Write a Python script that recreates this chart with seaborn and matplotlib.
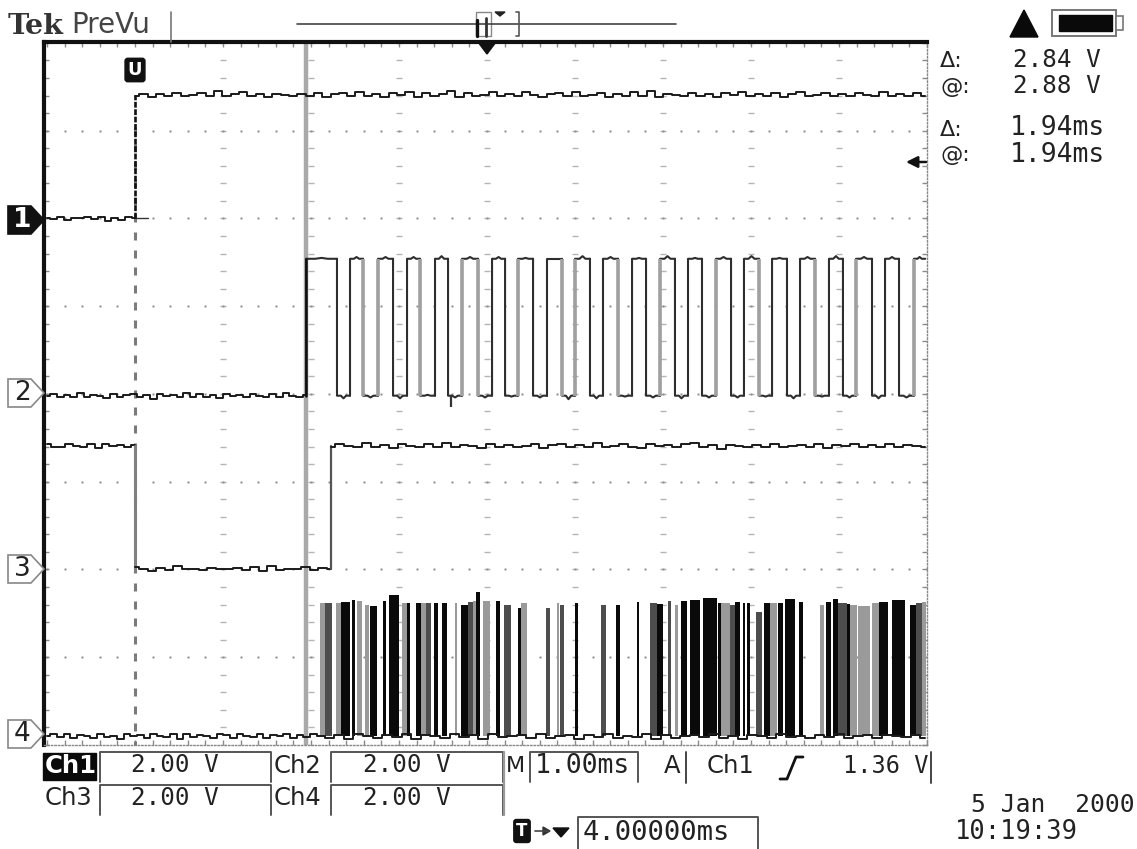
import numpy as np
import pandas as pd
import matplotlib
matplotlib.use("Agg")
import matplotlib.pyplot as plt
from matplotlib.patches import Polygon, Rectangle
import seaborn as sns

# Time in ms from the left edge of the screen, voltage in divisions from the bottom

# Channel levels
ch1_low, ch1_high = 6.00, 7.41
ch2_low, ch2_high = 3.98, 5.54
ch3_low, ch3_high = 2.01, 3.41
ch4_low = 0.10
trigger_t = 1.0
cursor_t = 2.943
ch3_rise_t = 3.227
ch2_dip_t, ch2_dip_v = 4.585, 3.85

ch1_low_dev = [0.01, -0.01, 0.02, -0.02, 0.01, 0.0, 0.02, -0.01, 0.02, -0.03, 0.01, -0.02, 0.02, 0.0]
ch1_high_dev = [-0.02, 0.01, -0.03, 0.01, -0.01, 0.02, -0.01, 0.0, 0.02, -0.02, 0.04, -0.02, 0.01, 0.03, -0.02,
                0.01, -0.03, 0.01, 0.0, -0.02, 0.01, -0.01, 0.02, -0.03, 0.01, 0.02, -0.02, 0.03, -0.01, 0.01,
                -0.03, 0.02, 0.0, 0.03, -0.03, 0.02, -0.02, 0.01, 0.04, -0.03, 0.02, -0.01, 0.0, 0.03, -0.02,
                0.01, -0.02, 0.03, 0.0, -0.03, 0.01, 0.02, -0.01, 0.03, -0.02, 0.0, 0.02, -0.03, 0.01, -0.01,
                0.03, -0.02, 0.04, -0.03, 0.01, 0.0, -0.02, 0.02, -0.01, 0.01, -0.03, 0.02, 0.0, 0.03, -0.02,
                0.01, -0.01, 0.02, -0.03, 0.01, 0.03, -0.02, 0.0, 0.02, -0.01, 0.01, -0.02, 0.02, 0.0, -0.02,
                0.03, -0.01, 0.01, -0.02, 0.02, -0.01]
ch2_low_dev = [0.0, 0.02, -0.02, 0.01, -0.01, 0.03, -0.02, 0.01, 0.0, -0.03, 0.02, -0.01, 0.01, 0.02, -0.02,
               0.01, -0.04, 0.02, 0.0, 0.01, -0.02, 0.03, -0.01, 0.02, -0.02, 0.01, -0.03, 0.02, 0.0, 0.01,
               -0.02, 0.02, 0.0, -0.01, 0.02, -0.02, 0.03, 0.0, -0.01, 0.01]
ch3_high_a_dev = [0.02, -0.02, -0.01, 0.02, 0.0, -0.02, 0.02, -0.03, 0.02, 0.0, 0.01, -0.02, 0.01]
ch3_low_dev = [0.02, -0.01, -0.03, 0.01, -0.02, 0.03, -0.01, 0.0, -0.02, 0.01, 0.0, -0.01, 0.01, -0.02, 0.02,
               -0.03, 0.03, -0.02, 0.0, -0.01, 0.02, -0.02, 0.01, -0.01]
ch3_high_b_dev = [-0.01, 0.02, 0.0, -0.02, 0.03, -0.01, 0.01, -0.03, 0.02, 0.0, -0.02, 0.02, -0.01, 0.03, -0.02,
                  0.01, 0.0, -0.03, 0.02, -0.01, 0.01, -0.02, 0.0, 0.02, -0.03, 0.01, 0.02, -0.02, 0.01, -0.01,
                  0.03, -0.02, 0.0, 0.02, -0.01, -0.03, 0.02, 0.0, 0.01, -0.02, 0.02, 0.03, -0.02, 0.01, -0.04,
                  0.01, 0.0, -0.02, 0.01, -0.01, 0.02, -0.02, 0.0, 0.01, -0.01, 0.02, -0.03, 0.01, 0.0, 0.02,
                  -0.02, 0.01, -0.01, 0.02, -0.02, 0.01, 0.0, -0.02]
ch4_low_dev = [0.0, 0.02, -0.01, 0.03, -0.02, 0.01, 0.0, -0.02, 0.03, -0.01, 0.0, -0.03, 0.02, 0.0, 0.01, -0.02,
               0.02, 0.0, -0.01, 0.03, -0.03, 0.02, -0.01, 0.01, 0.0, -0.02, 0.02, 0.01, -0.02, 0.03, 0.0, -0.01,
               0.02, -0.02, 0.01, 0.0, 0.02, -0.02, 0.01, -0.01, 0.03, 0.0]
ch4_tail_dev = [0.0, -0.02, 0.01, -0.03, 0.02, 0.0, -0.02, 0.01, -0.01, 0.02, -0.03, 0.01, 0.0, -0.02, 0.02, -0.01,
                0.01, -0.03, 0.02, -0.01, 0.0, 0.01, -0.02, 0.02, -0.02, 0.0, 0.01, -0.03, 0.01, -0.01, 0.02, -0.02,
                0.0, -0.01, 0.02, -0.03, 0.01, -0.02, 0.0, 0.01, -0.01, 0.02, -0.02, 0.0, -0.03, 0.01, 0.0, -0.02,
                0.02, -0.01, 0.0, -0.02, 0.01, -0.01, 0.02, -0.02, 0.0, 0.01, -0.02, 0.01, 0.0, -0.01, 0.01, -0.02]

# Channel 2 clock edges (first one rising), and which edges show up as wide grey
ch2_edges = [2.943, 3.295, 3.443, 3.591, 3.761, 3.932, 4.091, 4.239, 4.409, 4.557, 4.716, 4.898, 5.057, 5.205,
             5.352, 5.523, 5.682, 5.852, 6.000, 6.170, 6.318, 6.489, 6.648, 6.807, 6.966, 7.136, 7.284, 7.443,
             7.602, 7.773, 7.920, 8.091, 8.239, 8.409, 8.557, 8.727, 8.886, 9.045, 9.193, 9.375, 9.523, 9.682,
             9.852]
ch2_edge_grey = [0, 0, 0, 1, 1, 0, 0, 1, 0, 0, 1, 1, 0, 0, 1, 0, 0, 1, 1, 0, 0, 1, 0, 0, 1, 0, 0, 0, 1, 0, 0, 1,
                 0, 0, 0, 1, 0, 0, 1, 0, 0, 0, 1]
# Deviation at the middle of each top or bottom of the clock, last one runs to the right edge
ch2_seg_dev = [0.01, -0.03, 0.02, -0.02, 0.02, -0.03, 0.02, 0.01, 0.03, -0.02, 0.02, -0.02, 0.02, -0.01, 0.01,
               -0.02, 0.0, -0.04, 0.03, -0.03, 0.02, -0.01, 0.01, -0.02, 0.03, -0.03, 0.01, -0.02, 0.02, -0.02,
               0.03, -0.01, 0.01, -0.03, 0.02, -0.01, 0.03, -0.02, 0.02, -0.03, 0.02, -0.02, 0.02]

# Channel 4 data bursts
ch4_start = [3.10, 3.16, 3.28, 3.34, 3.46, 3.52, 3.61, 3.67, 3.82, 3.89, 4.03, 4.09, 4.19, 4.25, 4.31, 4.40, 4.49,
             4.64, 4.70, 4.78, 4.84, 4.88, 4.95, 5.10, 5.19, 5.35, 5.39, 5.67, 5.79, 5.83, 6.00, 6.30, 6.47, 6.70,
             6.85, 6.93, 7.06, 7.14, 7.21, 7.31, 7.45, 7.63, 7.66, 7.76, 7.82, 7.91, 7.95, 8.06, 8.15, 8.22, 8.31,
             8.39, 8.54, 8.78, 8.85, 8.93, 8.99, 9.09, 9.12, 9.22, 9.38, 9.45, 9.60, 9.81, 9.87, 9.94]
ch4_end = [3.16, 3.24, 3.34, 3.44, 3.50, 3.58, 3.66, 3.75, 3.85, 4.00, 4.09, 4.13, 4.25, 4.31, 4.36, 4.44, 4.55,
           4.66, 4.78, 4.84, 4.88, 4.92, 5.03, 5.15, 5.27, 5.39, 5.45, 5.72, 5.82, 5.87, 6.03, 6.35, 6.51, 6.73,
           6.93, 7.00, 7.09, 7.17, 7.27, 7.42, 7.61, 7.66, 7.76, 7.82, 7.88, 7.93, 7.99, 8.12, 8.22, 8.30, 8.36,
           8.50, 8.59, 8.83, 8.91, 8.99, 9.09, 9.12, 9.21, 9.35, 9.45, 9.56, 9.75, 9.87, 9.94, 9.99]
ch4_top = [1.62, 1.62, 1.62, 1.63, 1.65, 1.64, 1.60, 1.58, 1.64, 1.71, 1.62, 1.62, 1.62, 1.62, 1.62, 1.62, 1.62,
           1.62, 1.60, 1.63, 1.64, 1.74, 1.64, 1.64, 1.60, 1.56, 1.62, 1.56, 1.62, 1.59, 1.62, 1.60, 1.60, 1.63,
           1.62, 1.61, 1.64, 1.60, 1.64, 1.65, 1.68, 1.62, 1.62, 1.60, 1.63, 1.62, 1.62, 1.52, 1.62, 1.62, 1.62,
           1.66, 1.63, 1.59, 1.63, 1.66, 1.62, 1.61, 1.60, 1.58, 1.62, 1.63, 1.65, 1.60, 1.62, 1.63]
ch4_shade = list("gdgkkggkkk" "gkkgdkkgkd" "gkgkdkgdgd" "kdkkdkdgkk" "kkgdkkkdkg" "kkkgkkdkgg" "gkkkdg")
shade_colors = {"k": "#0a0a0a", "d": "#4d4d4d", "g": "#9a9a9a"}

grid_x = [1, 2, 3, 4, 5, 6, 7, 8, 9]
grid_y = [1, 2, 3, 4, 5, 6, 7]


def flat(t0, t1, level, dev):
    return pd.DataFrame({"t": np.linspace(t0, t1, len(dev)), "v": level + np.array(dev)})


def draw(df, ax, color="#1a1a1a", lw=1.4, steps=False):
    sns.lineplot(data=df, x="t", y="v", estimator=None, sort=False, color=color, linewidth=lw,
                 legend=False, ax=ax, zorder=4, drawstyle="steps-mid" if steps else "default")


sns.set_theme(style="white")
plt.rcParams["font.family"] = ["DejaVu Sans"]

W, H = 1137, 849
fig = plt.figure(figsize=(W / 100, H / 100), dpi=100, facecolor="white")
ax = fig.add_axes([44.4 / W, 1 - 745 / H, (927 - 44.4) / W, (745 - 42) / H])
ax.set_xlim(-0.03, 10)
ax.set_ylim(0, 8.01)

# Graticule
sub_x = np.arange(0, 10.01, 0.2)
sub_y = np.arange(0, 8.01, 0.2)
for gx in grid_x:
    if gx == 1:
        ax.plot([gx] * len(sub_y[:36]), sub_y[:36], ls="", marker="|", ms=6, mew=2.2, color="#7a7a7a", zorder=1)
    else:
        ax.plot([gx] * len(sub_y), sub_y, ls="", marker="_", ms=4, mew=1.0, color="#b4b4b4", zorder=1)
for gy in grid_y:
    ax.plot(sub_x, [gy] * len(sub_x), ls="", marker="s", ms=1.4, mew=0, color="#8a8a8a", zorder=1)

ax.set_xticks(sub_x, minor=False)
ax.set_yticks(sub_y, minor=False)
ax.tick_params(axis="both", direction="in", length=3.5, width=1.0, color="#8a8a8a",
               top=True, bottom=True, left=True, right=True,
               labelbottom=False, labelleft=False)
for side in ["top", "left"]:
    ax.spines[side].set_linewidth(3)
    ax.spines[side].set_color("#111111")
for side in ["right", "bottom"]:
    ax.spines[side].set_linewidth(1.0)
    ax.spines[side].set_color("#888888")
    ax.spines[side].set_linestyle((0, (1, 1.5)))

# Cursor
ax.axvline(cursor_t, color="#a9a9a9", lw=3.2, zorder=2)

# Channel 1
draw(flat(0, trigger_t, ch1_low, ch1_low_dev), ax, steps=True)
ax.plot([trigger_t, 1.15], [ch1_low, ch1_low], color="#333333", lw=1.0, zorder=3)
ax.plot([trigger_t, trigger_t], [ch1_low, ch1_high], color="#111111", lw=1.9, ls=(0, (2.2, 0.6)), zorder=4)
draw(flat(trigger_t, 9.98, ch1_high, ch1_high_dev), ax, steps=True)

# Channel 2
draw(flat(0, ch2_edges[0], ch2_low, ch2_low_dev), ax, steps=True)
ends = ch2_edges + [9.98]
for i in range(len(ch2_edges)):
    level = ch2_high if i % 2 == 0 else ch2_low
    other = ch2_low if i % 2 == 0 else ch2_high
    a, b = ends[i], ends[i + 1]
    w = b - a
    seg = pd.DataFrame({"t": [a, a, a + 0.3 * w, a + 0.5 * w, a + 0.7 * w, b],
                        "v": [other, level, level, level + ch2_seg_dev[i], level, level]})
    draw(seg, ax, color="#2e2e2e", lw=1.5)
grey_edges = [e for e, g in zip(ch2_edges, ch2_edge_grey) if g]
ax.vlines(grey_edges, ch2_low, ch2_high, color="#a0a0a0", lw=2.6, zorder=5)
ax.vlines([ch2_dip_t], ch2_dip_v, ch2_low, color="#333333", lw=1.6, zorder=5)
draw(pd.DataFrame({"t": [cursor_t, cursor_t], "v": [ch2_low, ch2_high]}), ax, color="#111111", lw=1.8)

# Channel 3
draw(flat(0, trigger_t, ch3_high, ch3_high_a_dev), ax, steps=True)
draw(pd.DataFrame({"t": [trigger_t, trigger_t], "v": [ch3_high, ch3_low]}), ax, color="#808080", lw=2.2)
draw(flat(trigger_t, ch3_rise_t, ch3_low, ch3_low_dev), ax, steps=True)
draw(pd.DataFrame({"t": [ch3_rise_t, ch3_rise_t], "v": [ch3_low, ch3_high]}), ax, color="#555555", lw=1.6)
draw(flat(ch3_rise_t, 9.98, ch3_high, ch3_high_b_dev), ax, steps=True)

# Channel 4
draw(flat(0, 3.10, ch4_low, ch4_low_dev), ax, steps=True)
draw(flat(3.10, 9.98, ch4_low, ch4_tail_dev), ax, steps=True)
ax.bar(ch4_start, np.array(ch4_top) - ch4_low, width=np.array(ch4_end) - np.array(ch4_start), bottom=ch4_low,
       align="edge", color=[shade_colors[s] for s in ch4_shade], linewidth=0, zorder=3)
ax.set_xlabel("")
ax.set_ylabel("")

# Screen furniture, in pixel coordinates of the picture
ui = fig.add_axes([0, 0, 1, 1], facecolor="none")
ui.set_xlim(0, W)
ui.set_ylim(H, 0)
ui.axis("off")

MONO = "DejaVu Sans Mono"
INK = "#222222"


def label(x, y, s, size=17.5, family=MONO, ha="left", color=INK, weight="normal"):
    ui.text(x, y, s, fontsize=size, family=family, ha=ha, va="center", color=color, weight=weight)


def frame(x0, x1, y0, y1):
    ui.plot([x0, x0, x1, x1], [y1, y0, y0, y1], color="#555555", lw=1.4)


ui.text(8, 26, "Tek", fontsize=20.5, family="DejaVu Serif", weight="bold", va="center", color="#333333")
label(71, 25, "PreVu", size=20, family="DejaVu Sans", color="#444444")
ui.plot([171, 171], [12, 42], color="#777777", lw=1.2)

# Record view strip
ui.plot([297, 676], [24, 24], color="#444444", lw=1.2)
ui.add_patch(Rectangle((476, 12), 15, 24, fc="white", ec="#888888", lw=1))
ui.plot([477, 477], [20, 36], color="#111111", lw=2.4)
ui.plot([486, 486], [18, 36], color="#333333", lw=2)
ui.add_patch(Polygon([(495, 12), (505, 12), (500, 16)], color="#222222"))
ui.plot([516, 519, 519, 516], [12, 12, 36, 36], color="#555555", lw=1.2)
ui.add_patch(Polygon([(478, 42), (496, 42), (487, 54)], color="#111111"))

# Trigger marker
ui.text(135, 70, "U", fontsize=13, weight="bold", color="white", ha="center", va="center",
        bbox=dict(boxstyle="round,pad=0.15", fc="#111111", ec="#111111"))

# Channel markers
for n, cy, filled in [("1", 220, True), ("2", 393, False), ("3", 569, False), ("4", 734, False)]:
    pts = [(8, cy - 14), (31, cy - 14), (44, cy), (31, cy + 14), (8, cy + 14)]
    ui.add_patch(Polygon(pts, fc="#111111" if filled else "white", ec="#111111" if filled else "#888888", lw=1.2))
    label(22, cy, n, size=19, family="DejaVu Sans", ha="center", color="white" if filled else "#222222",
          weight="bold" if filled else "normal")

# Measurements
ui.add_patch(Polygon([(1010, 37), (1038, 37), (1024, 10)], color="#0a0a0a"))
ui.add_patch(Rectangle((1052, 10), 64, 26, fc="white", ec="#777777", lw=1.4))
ui.add_patch(Rectangle((1059, 15), 53, 16, color="#0a0a0a"))
ui.add_patch(Rectangle((1116, 16), 7, 14, fc="white", ec="#777777", lw=1.2))
for y, s in [(61, "Δ:"), (87, "@:"), (130, "Δ:"), (155, "@:")]:
    label(940, y, s, size=16, family="DejaVu Sans")
for y, s in [(60, "2.84 V"), (86, "2.88 V")]:
    label(1013, y, s, size=17.5)
for y, s in [(128, "1.94ms"), (155, "1.94ms")]:
    label(1010, y, s, size=19)
ui.annotate("", xy=(906, 162), xytext=(926, 162),
            arrowprops=dict(arrowstyle="-|>", color="#111111", lw=1.8, mutation_scale=17, shrinkA=0, shrinkB=0))

# Bottom readouts
ui.add_patch(Rectangle((43, 753), 53, 27, color="#0a0a0a"))
label(45, 766, "Ch1", family="DejaVu Sans", color="white", weight="bold")
label(45, 798, "Ch3", family="DejaVu Sans")
label(274, 766, "Ch2", family="DejaVu Sans")
label(274, 798, "Ch4", family="DejaVu Sans")
for x0, x1, y0, y1 in [(100, 271, 752, 782), (100, 271, 785, 815), (331, 503, 752, 782), (331, 503, 785, 815),
                       (530, 638, 752, 782), (578, 758, 817, 849)]:
    frame(x0, x1, y0, y1)
for xc in [175, 407]:
    label(xc, 765, "2.00 V", ha="center")
    label(xc, 798, "2.00 V", ha="center")
label(506, 766, "M", family="DejaVu Sans", size=16)
ui.plot([504, 504], [752, 815], color="#999999", lw=1.6)
label(535, 766, "1.00ms", size=19)
label(664, 766, "A", family="DejaVu Sans")
ui.plot([686, 686], [752, 783], color="#444444", lw=1.4)
label(707, 766, "Ch1", family="DejaVu Sans")
ui.plot([780, 787, 796, 803], [779, 779, 757, 757], color="#111111", lw=2)
label(843, 766, "1.36 V", size=17)
ui.plot([931, 931], [752, 783], color="#444444", lw=1.4)

ui.text(522, 831, "T", fontsize=12, weight="bold", color="white", ha="center", va="center",
        bbox=dict(boxstyle="round,pad=0.15", fc="#111111", ec="#111111"))
ui.plot([535, 549], [831, 831], color="#444444", lw=1.2)
ui.add_patch(Polygon([(543, 827), (550, 831), (543, 835)], color="#333333"))
ui.add_patch(Polygon([(553, 828), (569, 828), (561, 837)], color="#111111"))
label(583, 833, "4.00000ms", size=19.5)
label(971, 805, "5 Jan  2000", size=17.7)
label(955, 832, "10:19:39", size=18.4)

fig.savefig("out.png", dpi=100)
